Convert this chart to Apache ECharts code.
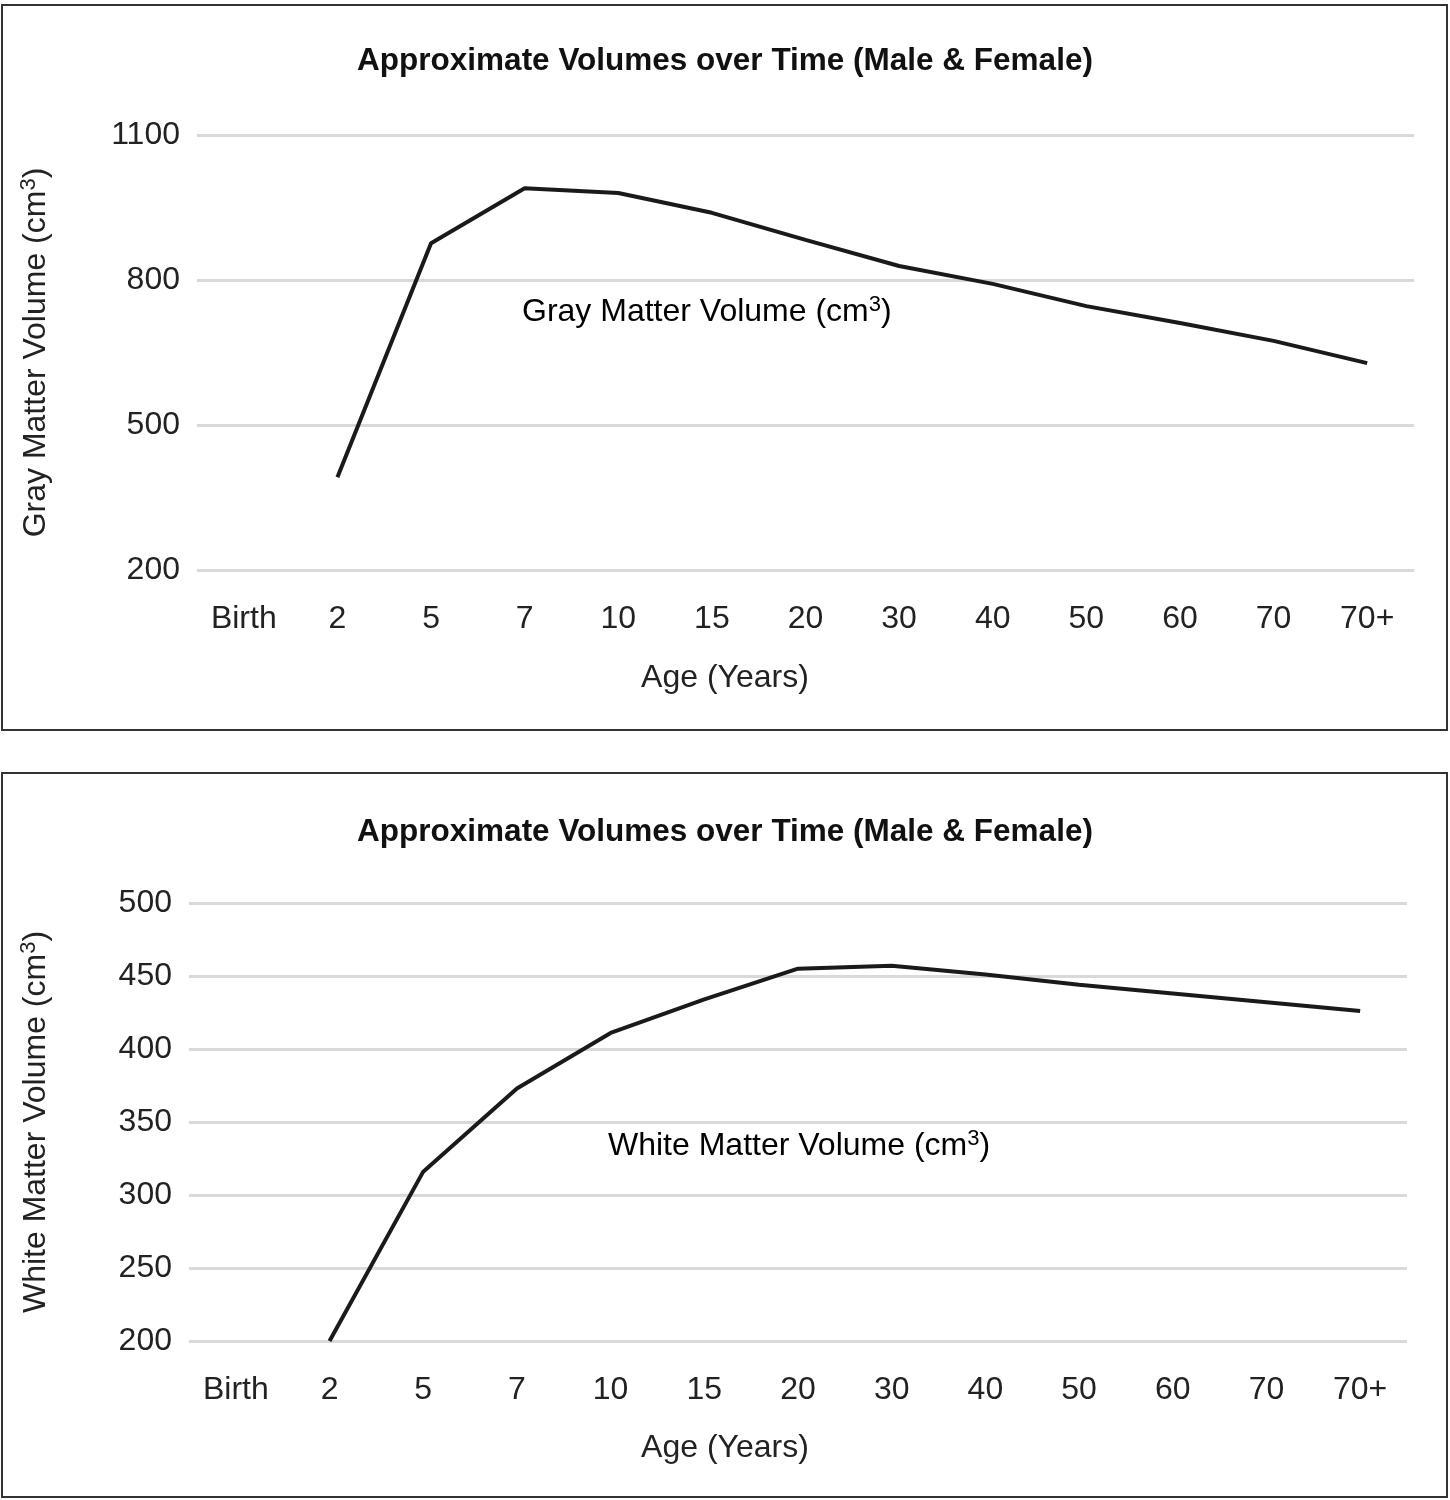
<!DOCTYPE html>
<html><head><meta charset="utf-8">
<script src="https://cdn.jsdelivr.net/npm/echarts@6/dist/echarts.min.js"></script>
<style>html,body{margin:0;padding:0;background:#fff}#c{width:1450px;height:1500px}</style>
</head><body><div id="c"></div>
<script>
const ages = ['Birth','2','5','7','10','15','20','30','40','50','60','70','70+'];
const grayValues = [null,392,876,990,980,939,883,829,792,746,711,674,628];
const whiteValues = [null,200,316,373,411,434,455,457,451,444,438,432,426];

const F = '"Liberation Sans", Arial, sans-serif';
const rich = {n:{fontSize:32,fontFamily:F,color:'#222'},s:{fontSize:22,fontFamily:F,color:'#222',verticalAlign:'top',padding:[0,0,14,0]}};
function xAxis(i){return {type:'category',gridIndex:i,data:ages,boundaryGap:true,
  axisLine:{show:false},axisTick:{show:false},
  axisLabel:{fontSize:32,fontFamily:F,color:'#222',margin:33,interval:0}};}
function yAxis(i,min,max,interval,name,gap){return {type:'value',gridIndex:i,min,max,interval,
  axisLine:{show:false},axisTick:{show:false},
  axisLabel:{fontSize:32,fontFamily:F,color:'#222',margin:17,formatter:v=>String(v)},
  splitLine:{lineStyle:{color:'#d9d9d9',width:3}},
  name:'{n|'+name+' (cm}{s|3}{n|)}',nameLocation:'middle',nameRotate:90,nameGap:gap,
  nameTextStyle:{rich}};}
const chart = echarts.init(document.getElementById('c'));
chart.setOption({
  animation:false,
  title:[
    {text:'Approximate Volumes over Time (Male & Female)',left:'center',top:40,textStyle:{fontSize:31.5,fontWeight:'bold',fontFamily:F,color:'#111'}},
    {text:'Approximate Volumes over Time (Male & Female)',left:'center',top:811,textStyle:{fontSize:31.5,fontWeight:'bold',fontFamily:F,color:'#111'}},
    {text:'Age (Years)',left:'center',top:657,textStyle:{fontSize:32,fontWeight:'normal',fontFamily:F,color:'#222'}},
    {text:'Age (Years)',left:'center',top:1427,textStyle:{fontSize:32,fontWeight:'normal',fontFamily:F,color:'#222'}}
  ],
  grid:[{left:197,right:36,top:135,height:435},{left:189,right:43,top:903,height:438}],
  xAxis:[xAxis(0),xAxis(1)],
  yAxis:[yAxis(0,200,1100,300,'Gray Matter Volume',143),yAxis(1,200,500,50,'White Matter Volume',135)],
  series:[
    {type:'line',xAxisIndex:0,yAxisIndex:0,data:grayValues,symbol:'none',lineStyle:{color:'#1a1a1a',width:4}},
    {type:'line',xAxisIndex:1,yAxisIndex:1,data:whiteValues,symbol:'none',lineStyle:{color:'#1a1a1a',width:4}}
  ],
  graphic:[
    {type:'rect',shape:{x:2,y:5,width:1445,height:725},style:{fill:null,stroke:'#333',lineWidth:2}},
    {type:'rect',shape:{x:2,y:773,width:1445,height:724},style:{fill:null,stroke:'#333',lineWidth:2}},
    {type:'text',x:522,y:294,style:{text:'{n|Gray Matter Volume (cm}{s|3}{n|)}',rich}},
    {type:'text',x:608,y:1128,style:{text:'{n|White Matter Volume (cm}{s|3}{n|)}',rich}}
  ]
});
</script></body></html>
